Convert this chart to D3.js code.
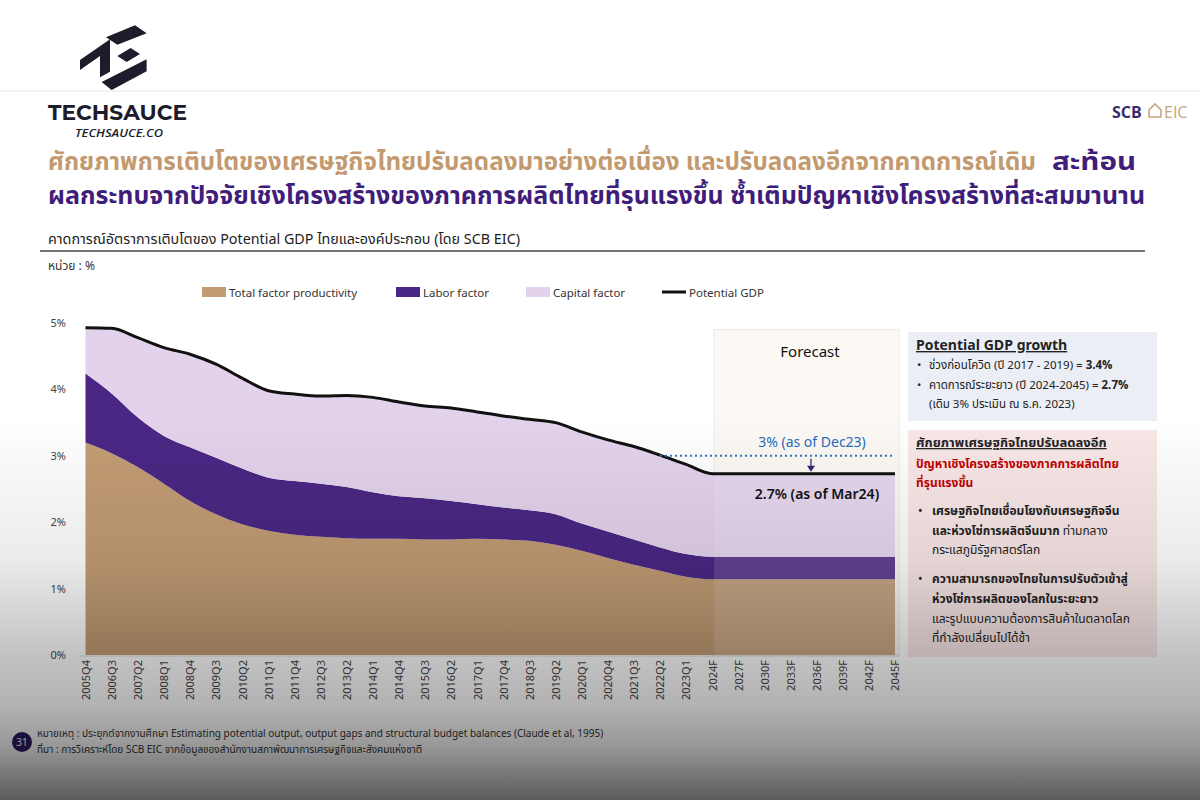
<!DOCTYPE html>
<html><head><meta charset="utf-8">
<script src="https://cdn.jsdelivr.net/npm/d3@7/dist/d3.min.js"></script>
<style>
html,body{margin:0;padding:0;background:#fff;}
svg{display:block;font-family:"Noto Sans Thai","Noto Sans",sans-serif;}
</style></head>
<body>
<svg id="c" width="1200" height="800"></svg>
<script>
// ---------- data ----------
const periods = ["2005Q4","2006Q3","2007Q2","2008Q1","2008Q4","2009Q3","2010Q2","2011Q1","2011Q4","2012Q3","2013Q2","2014Q1","2014Q4","2015Q3","2016Q2","2017Q1","2017Q4","2018Q3","2019Q2","2020Q1","2020Q4","2021Q3","2022Q2","2023Q1","2024F","2027F","2030F","2033F","2036F","2039F","2042F","2045F"];
const tfp     = [3.20,3.04,2.83,2.58,2.32,2.12,1.97,1.87,1.81,1.78,1.76,1.75,1.75,1.74,1.74,1.75,1.74,1.72,1.66,1.57,1.46,1.36,1.27,1.18,1.14,1.14,1.14,1.14,1.14,1.14,1.14,1.14];
const labor   = [1.04,0.90,0.75,0.72,0.81,0.85,0.84,0.80,0.81,0.80,0.77,0.70,0.64,0.62,0.58,0.52,0.48,0.46,0.46,0.41,0.40,0.38,0.35,0.34,0.34,0.34,0.34,0.34,0.34,0.34,0.34,0.34];
const capital = [0.69,0.98,1.20,1.33,1.40,1.41,1.36,1.31,1.31,1.32,1.38,1.43,1.42,1.39,1.40,1.39,1.38,1.37,1.38,1.38,1.38,1.40,1.39,1.35,1.25,1.25,1.25,1.25,1.25,1.25,1.25,1.25];
const potential = [4.93,4.92,4.78,4.63,4.53,4.38,4.17,3.98,3.93,3.90,3.91,3.88,3.81,3.75,3.72,3.66,3.60,3.55,3.50,3.36,3.24,3.14,3.01,2.87,2.73,2.73,2.73,2.73,2.73,2.73,2.73,2.73];
const yTicks = [0,1,2,3,4,5];
const seriesNames = ["Total factor productivity","Labor factor","Capital factor","Potential GDP"];
const oldForecast = 3.0;

const svg = d3.select("#c");
const W=1200,H=800;

// ---------- header ----------
svg.append("line").attr("x1",0).attr("x2",W).attr("y1",91).attr("y2",91).attr("stroke","#f0f0f0").attr("stroke-width",1.5);
const logo = svg.append("g").attr("transform","scale(0.3333)").attr("fill","#1d1c2b");
[
 [[240,180],[330,118],[330,215],[300,232],[300,168],[240,210]],
 [[318,112],[405,76],[440,100],[352,134]],
 [[352,168],[392,144],[420,162],[380,186]],
 [[305,246],[440,178],[440,214],[335,270]]
].forEach(p=>logo.append("polygon").attr("points",p.map(d=>d.join(",")).join(" ")));
svg.append("text").attr("x",48).attr("y",120).attr("font-family","Montserrat,'Open Sans',sans-serif").attr("font-weight",700).attr("font-size",21).attr("fill","#1d1c2b").attr("textLength",139).attr("lengthAdjust","spacingAndGlyphs").text("TECHSAUCE");
svg.append("text").attr("x",75).attr("y",137).attr("font-family","'Open Sans',sans-serif").attr("font-style","italic").attr("font-weight",600).attr("font-size",11).attr("fill","#1d1c2b").attr("textLength",88).attr("lengthAdjust","spacingAndGlyphs").text("TECHSAUCE.CO");
// SCB EIC
svg.append("text").attr("x",1112).attr("y",118).attr("font-family","'Open Sans',sans-serif").attr("font-weight",700).attr("font-size",16).attr("fill","#3a2a6e").text("SCB");
svg.append("path").attr("d","M1149,117 L1149,110 L1155,104 L1161,110 L1161,117 Z").attr("fill","none").attr("stroke","#c9a57f").attr("stroke-width",1.6);
svg.append("text").attr("x",1164).attr("y",118).attr("font-family","'Open Sans',sans-serif").attr("font-weight",500).attr("font-size",16).attr("fill","#c9a57f").text("EIC");

// title
svg.append("text").attr("x",48).attr("y",170).attr("font-size",24).attr("font-weight",700).attr("fill","#c39a6f")
  .attr("textLength",988).attr("lengthAdjust","spacingAndGlyphs").text("ศักยภาพการเติบโตของเศรษฐกิจไทยปรับลดลงมาอย่างต่อเนื่อง และปรับลดลงอีกจากคาดการณ์เดิม");
svg.append("text").attr("x",1052).attr("y",170).attr("font-size",24).attr("font-weight",700).attr("fill","#3f1d7a")
  .attr("textLength",84).attr("lengthAdjust","spacingAndGlyphs").text("สะท้อน");
svg.append("text").attr("x",48).attr("y",204).attr("font-size",24).attr("font-weight",700).attr("fill","#3f1d7a")
  .attr("textLength",1097).attr("lengthAdjust","spacingAndGlyphs").text("ผลกระทบจากปัจจัยเชิงโครงสร้างของภาคการผลิตไทยที่รุนแรงขึ้น ซ้ำเติมปัญหาเชิงโครงสร้างที่สะสมมานาน");

// subtitle
svg.append("text").attr("x",48).attr("y",244).attr("font-size",14).attr("fill","#222")
  .attr("textLength",472).attr("lengthAdjust","spacingAndGlyphs").text("คาดการณ์อัตราการเติบโตของ Potential GDP ไทยและองค์ประกอบ (โดย SCB EIC)");
svg.append("line").attr("x1",40).attr("x2",1145).attr("y1",251).attr("y2",251).attr("stroke","#444").attr("stroke-width",1.3);
svg.append("text").attr("x",48).attr("y",270).attr("font-size",12).attr("fill","#333").text("หน่วย : %");

// ---------- chart ----------
const x = d3.scalePoint().domain(periods).range([85.5,895]);
const y = d3.scaleLinear().domain([0,5]).range([655,323]);
const colors = {tfp:"#c29c74",labor:"#4a2784",capital:"#e3d2ec"};
const rows = periods.map((p,i)=>({p,tfp:tfp[i],labor:labor[i],capital:capital[i],pot:potential[i]}));

// forecast box background
const fx0 = x("2024F")+2, fx1 = x("2045F")+4;
svg.append("rect").attr("x",fx0).attr("y",y(4.9)).attr("width",fx1-fx0).attr("height",y(0)-y(4.9))
  .attr("fill","#fcf8f3").attr("stroke","#ece8e4").attr("stroke-width",1);

const stack = d3.stack().keys(["tfp","labor","capital"])(rows);
const area = d3.area().x(d=>x(d.data.p)).y0(d=>y(d[0])).y1(d=>y(d[1])).curve(d3.curveMonotoneX);
svg.append("g").selectAll("path").data(stack).join("path")
  .attr("d",area).attr("fill",d=>colors[d.key]);

// forecast lightening overlay
svg.append("rect").attr("x",fx0).attr("y",y(2.73)).attr("width",x("2045F")-fx0).attr("height",y(0)-y(2.73))
  .attr("fill","#ffffff").attr("opacity",0.13);

const line = d3.line().x(d=>x(d.p)).y(d=>y(d.pot)).curve(d3.curveMonotoneX);
svg.append("path").datum(rows).attr("d",line).attr("fill","none").attr("stroke","#111").attr("stroke-width",3);

// axis baseline
svg.append("line").attr("x1",80).attr("x2",900).attr("y1",y(0)+1).attr("y2",y(0)+1).attr("stroke","#d8d8d8").attr("stroke-width",1);

// y axis labels
const yAxis = d3.axisLeft(y).tickValues(yTicks).tickFormat(d=>d+"%").tickSize(0).tickPadding(0);
const gy = svg.append("g").attr("transform","translate(66,0)").call(yAxis);
gy.select(".domain").remove();
gy.selectAll("text").attr("font-size",11).attr("fill","#444").attr("font-family","'Noto Sans',sans-serif");

// x axis labels
const xAxis = d3.axisBottom(x).tickSize(0).tickPadding(0);
const gx = svg.append("g").attr("transform","translate(0,660)").call(xAxis);
gx.select(".domain").remove();
gx.selectAll("text").attr("font-size",11).attr("fill","#444").attr("font-family","'Noto Sans',sans-serif")
  .attr("transform","rotate(-90)").attr("text-anchor","end").attr("dy","0.35em").attr("x",0).attr("y",0);

// forecast annotations
svg.append("text").attr("x",810).attr("y",357).attr("text-anchor","middle").attr("font-size",15).attr("fill","#111")
  .attr("font-family","'Noto Sans',sans-serif").text("Forecast");
svg.append("line").attr("x1",x("2022Q2")).attr("x2",x("2045F")).attr("y1",y(oldForecast)).attr("y2",y(oldForecast))
  .attr("stroke","#2e74c0").attr("stroke-width",2).attr("stroke-dasharray","2,3");
svg.append("text").attr("x",812).attr("y",447).attr("text-anchor","middle").attr("font-size",14).attr("fill","#1f6dbf")
  .attr("font-family","'Noto Sans',sans-serif").text("3% (as of Dec23)");
svg.append("line").attr("x1",811).attr("x2",811).attr("y1",y(oldForecast)+3).attr("y2",y(2.73)-6).attr("stroke","#3b2470").attr("stroke-width",1.3);
svg.append("path").attr("d",`M807,${y(2.73)-8} L815,${y(2.73)-8} L811,${y(2.73)-2} Z`).attr("fill","#3b2470");
svg.append("text").attr("x",817).attr("y",499).attr("text-anchor","middle").attr("font-size",14).attr("font-weight",600).attr("fill","#111")
  .attr("font-family","'Noto Sans',sans-serif").text("2.7% (as of Mar24)");

// legend
const legend = [
  {t:seriesNames[0],c:colors.tfp,x:202,type:"rect"},
  {t:seriesNames[1],c:colors.labor,x:396,type:"rect"},
  {t:seriesNames[2],c:colors.capital,x:526,type:"rect"},
  {t:seriesNames[3],c:"#111",x:662,type:"line"}];
const lg = svg.append("g").attr("font-family","'Noto Sans',sans-serif");
legend.forEach(l=>{
  if(l.type==="rect") lg.append("rect").attr("x",l.x).attr("y",287).attr("width",24).attr("height",10).attr("fill",l.c);
  else lg.append("line").attr("x1",l.x).attr("x2",l.x+24).attr("y1",292).attr("y2",292).attr("stroke",l.c).attr("stroke-width",3);
  lg.append("text").attr("x",l.x+27).attr("y",296.5).attr("font-size",11.5).attr("fill","#333").text(l.t);
});

// ---------- right panels ----------
svg.append("rect").attr("x",908).attr("y",332).attr("width",249).attr("height",89).attr("fill","#eceef5");
const p1 = svg.append("g").attr("font-size",11.5).attr("fill","#222");
p1.append("text").attr("x",916).attr("y",350).attr("font-size",14).attr("font-weight",700).attr("text-decoration","underline").text("Potential GDP growth");
p1.append("text").attr("x",917).attr("y",369).text("•");
p1.append("text").attr("x",929).attr("y",369).call(t=>{t.append("tspan").text("ช่วงก่อนโควิด (ปี 2017 - 2019) = ");t.append("tspan").attr("font-weight",700).text("3.4%");});
p1.append("text").attr("x",917).attr("y",389).text("•");
p1.append("text").attr("x",929).attr("y",389).call(t=>{t.append("tspan").text("คาดการณ์ระยะยาว (ปี 2024-2045) = ");t.append("tspan").attr("font-weight",700).text("2.7%");});
p1.append("text").attr("x",929).attr("y",408).text("(เดิม 3% ประเมิน ณ ธ.ค. 2023)");

svg.append("rect").attr("x",908).attr("y",430).attr("width",249).attr("height",227).attr("fill","#f9e7e7");
const p2 = svg.append("g").attr("font-size",12).attr("fill","#222");
p2.append("text").attr("x",916).attr("y",447).attr("font-size",13).attr("font-weight",700).attr("text-decoration","underline").text("ศักยภาพเศรษฐกิจไทยปรับลดลงอีก");
p2.append("text").attr("x",916).attr("y",468).attr("font-weight",700).attr("fill","#c00000").text("ปัญหาเชิงโครงสร้างของภาคการผลิตไทย");
p2.append("text").attr("x",916).attr("y",487).attr("font-weight",700).attr("fill","#c00000").text("ที่รุนแรงขึ้น");
p2.append("text").attr("x",918).attr("y",515).text("•");
p2.append("text").attr("x",932).attr("y",515).attr("font-weight",700).text("เศรษฐกิจไทยเชื่อมโยงกับเศรษฐกิจจีน");
p2.append("text").attr("x",932).attr("y",535).call(t=>{t.append("tspan").attr("font-weight",700).text("และห่วงโซ่การผลิตจีนมาก");t.append("tspan").text(" ท่ามกลาง");});
p2.append("text").attr("x",932).attr("y",554).text("กระแสภูมิรัฐศาสตร์โลก");
p2.append("text").attr("x",918).attr("y",583).text("•");
p2.append("text").attr("x",932).attr("y",583).attr("font-weight",700).text("ความสามารถของไทยในการปรับตัวเข้าสู่");
p2.append("text").attr("x",932).attr("y",603).attr("font-weight",700).text("ห่วงโซ่การผลิตของโลกในระยะยาว");
p2.append("text").attr("x",932).attr("y",623).text("และรูปแบบความต้องการสินค้าในตลาดโลก");
p2.append("text").attr("x",932).attr("y",642).text("ที่กำลังเปลี่ยนไปได้ช้า");

// ---------- footer ----------
svg.append("circle").attr("cx",22).attr("cy",742).attr("r",10).attr("fill","#2e1a5f");
svg.append("text").attr("x",22).attr("y",746).attr("text-anchor","middle").attr("font-size",10).attr("fill","#fff").attr("font-family","'Noto Sans',sans-serif").text("31");
svg.append("text").attr("x",37).attr("y",737).attr("font-size",10).attr("fill","#333").text("หมายเหตุ : ประยุกต์จากงานศึกษา Estimating potential output, output gaps and structural budget balances (Claude et al, 1995)");
svg.append("text").attr("x",37).attr("y",753).attr("font-size",10).attr("fill","#333").text("ที่มา : การวิเคราะห์โดย SCB EIC จากข้อมูลของสำนักงานสภาพัฒนาการเศรษฐกิจและสังคมแห่งชาติ");

// ---------- vignette overlay ----------
const defs = svg.append("defs");
const g = defs.append("linearGradient").attr("id","vig").attr("x1",0).attr("x2",0).attr("y1",0).attr("y2",1);
[[0,0],[0.52,0],[0.7,0.08],[0.82,0.24],[0.88,0.3],[0.93,0.4],[1,0.64]].forEach(s=>
  g.append("stop").attr("offset",s[0]).attr("stop-color","#000").attr("stop-opacity",s[1]));
svg.append("rect").attr("width",W).attr("height",H).attr("fill","url(#vig)").attr("pointer-events","none");
</script>
</body></html>
